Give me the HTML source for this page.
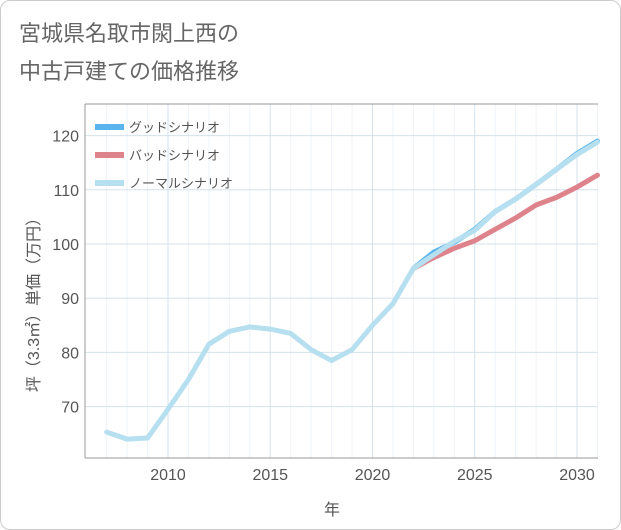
<!DOCTYPE html>
<html><head><meta charset="utf-8"><style>
body{margin:0;background:#fff;font-family:"Liberation Sans","Noto Sans CJK JP",sans-serif}
#wrap{position:relative;width:619px;height:528px;border:1px solid #ccc;border-radius:10px;overflow:hidden;background:#fff}
</style></head><body>
<div id="wrap">
<svg id="c" width="621" height="530">
<text x="18" y="40" font-size="22" fill="#666">宮城県名取市閖上西の</text>
<text x="18" y="78" font-size="22" fill="#666">中古戸建ての価格推移</text>
<g id="grid"></g><g id="series"></g><g id="legend"></g>
<text x="331" y="514" font-size="16" fill="#555" text-anchor="middle">年</text>
<text transform="translate(38,300) rotate(-90)" font-size="16" fill="#555" text-anchor="middle">坪（3.3㎡）単価（万円）</text>
</svg></div>
<script>
const years=[2007,2008,2009,2010,2011,2012,2013,2014,2015,2016,2017,2018,2019,2020,2021,2022,2023,2024,2025,2026,2027,2028,2029,2030,2031];
const normal=[65.3,64,64.2,69.5,75,81.5,83.9,84.7,84.3,83.5,80.5,78.5,80.5,85,89,95.5,98,100.5,102.5,106,108.3,111,113.8,116.5,118.8];
const goodYears=[2022,2023,2024,2025,2026,2027,2028,2029,2030,2031];
const good=[95.5,98.5,100.3,102.7,106,108.3,111,113.8,116.7,119];
const badYears=[2022,2023,2024,2025,2026,2027,2028,2029,2030,2031];
const bad=[95.5,97.5,99.2,100.6,102.7,104.8,107.2,108.6,110.5,112.7];
const xTicks=[2010,2015,2020,2025,2030];
const yTicks=[70,80,90,100,110,120];
const L=84,R=597,T=103,B=457;
const x=v=>167+(v-2010)*20.45;
const y=v=>243-(v-100)*5.42;
const NS='http://www.w3.org/2000/svg';
function mk(p,t,a){const e=document.createElementNS(NS,t);for(const k in a)e.setAttribute(k,a[k]);p.appendChild(e);return e;}
const g=document.getElementById('grid');
const bg=mk(g,'rect',{x:L,y:T,width:R-L,height:B-T,fill:'#fff'});


for(let yr=2007;yr<=2031;yr++){if(yr%5){const l=mk(g,'line',{x1:x(yr),x2:x(yr),y1:T,y2:B,stroke:'#eef3f7','stroke-width':1});}}
xTicks.forEach(t=>{const l=mk(g,'line',{x1:x(t),x2:x(t),y1:T,y2:B,stroke:'#d5e2ec','stroke-width':1});


const tx=mk(g,'text',{x:x(t),y:479,'font-size':16,fill:'#555','text-anchor':'middle'});tx.textContent=t;

});
yTicks.forEach(t=>{const l=mk(g,'line',{x1:L,x2:R,y1:y(t),y2:y(t),stroke:'#d5e2ec','stroke-width':1});


const tx=mk(g,'text',{x:78,y:y(t)+6,'font-size':16,fill:'#555','text-anchor':'end'});tx.textContent=t;

});
mk(g,'line',{x1:L,x2:R,y1:T,y2:T,stroke:'#999','stroke-width':1});
mk(g,'line',{x1:L,x2:L,y1:T,y2:B,stroke:'#999','stroke-width':1});
mk(g,'line',{x1:L,x2:R,y1:B,y2:B,stroke:'#999','stroke-width':1});
const s=document.getElementById('series');
function line(xs,vs,c,name){const p=mk(s,'polyline',{points:xs.map((v,i)=>x(v)+','+y(vs[i])).join(' '),fill:'none',stroke:c,'stroke-width':5,'stroke-linejoin':'round','stroke-linecap':'round'});

}
line(goodYears,good,'#5ab4ee','good-scenario-line');
line(badYears,bad,'#de838c','bad-scenario-line');
line(years,normal,'#b6dff0','normal-scenario-line');
const lg=document.getElementById('legend');
[['グッドシナリオ','#5ab4ee'],['バッドシナリオ','#de838c'],['ノーマルシナリオ','#b6dff0']].forEach((d,i)=>{
const yy=126+i*28;
const r=mk(lg,'rect',{x:94,y:yy-3,width:29,height:6,fill:d[1]});


const t=mk(lg,'text',{x:128,y:yy+5,'font-size':13,fill:'#555'});t.textContent=d[0];

});
</script></body></html>
